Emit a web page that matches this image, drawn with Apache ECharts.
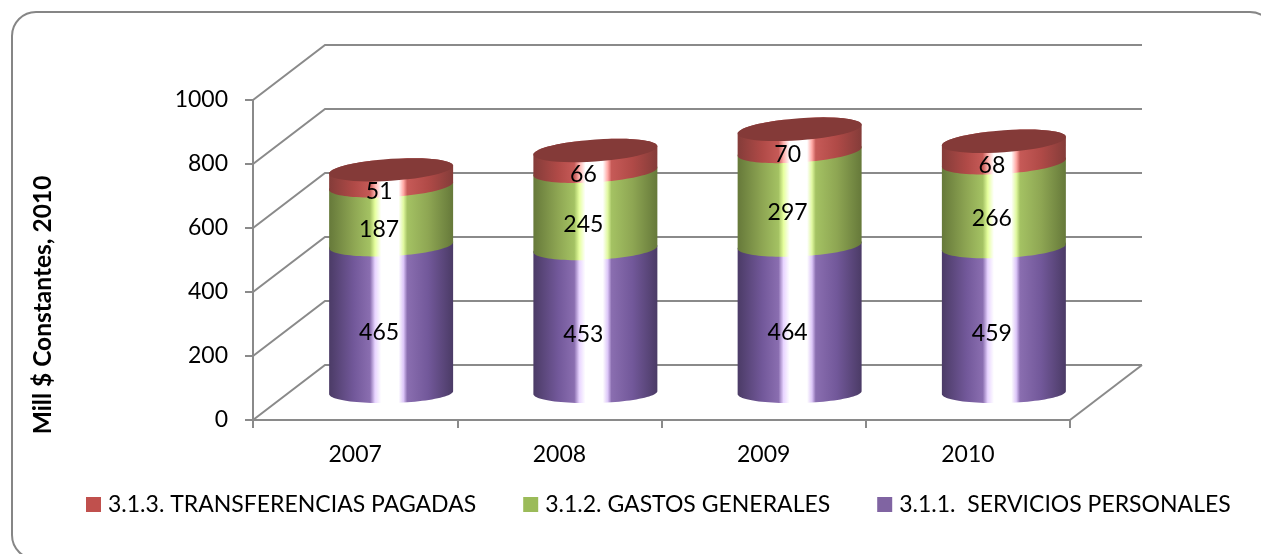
<!DOCTYPE html>
<html><head><meta charset="utf-8">
<style>html,body{margin:0;padding:0;background:#fff}#c{width:1261px;height:554px}</style>
<script src="https://cdn.jsdelivr.net/npm/echarts@6/dist/echarts.min.js"></script>
</head><body><div id="c"></div>
<script>
const categories = ['2007','2008','2009','2010'];
const serviciosPersonales = [465,453,464,459];
const gastosGenerales = [187,245,297,266];
const transferencias = [51,66,70,68];
const yTicks = [0,200,400,600,800,1000];
const seriesNames = ['3.1.1.  SERVICIOS PERSONALES','3.1.2. GASTOS GENERALES','3.1.3. TRANSFERENCIAS PAGADAS'];

const DEPTH_X = 72, DEPTH_Y = 55, FONT = 'Lato', DEPTH_SCALE = 0.99;
const GRID_COLOR = '#8a8a8a';

function sideGrad(dk, mid, hi, hi2) {
  return {type:'linear',x:0,y:0,x2:1,y2:0,colorStops:[
    {offset:0,color:dk},{offset:.2,color:mid[0]},{offset:.33,color:mid[1]},{offset:.37,color:hi},
    {offset:.42,color:'#ffffff'},{offset:.56,color:'#ffffff'},{offset:.6,color:hi2},{offset:.63,color:mid[1]},
    {offset:.8,color:mid[0]},{offset:1,color:dk}]};
}
const fills = [
  sideGrad('#4b3b66',['#72589a','#8a6eb0'],'#e8d4ff','#dcc6f8'),
  sideGrad('#66793a',['#8ea653','#a4c263'],'#e6ff9e','#e0f8a0'),
  sideGrad('#843c39',['#b04a47','#c65a57'],'#ffb0ac','#ffa8a4')
];
const stacks = [serviciosPersonales, gastosGenerales, transferencias];

function slope(total){ return -(0.024 + total/703*0.04); }
function radiusY(total){ return 10.5 + total/800*0.5; }

function arc(cx, cy, hw, ry, sl, from, to){
  const pts=[]; const n=48;
  for(let k=0;k<=n;k++){
    const t = from + (to-from)*k/n;
    const dx = hw*Math.cos(t);
    pts.push([cx+dx, cy+ry*Math.sin(t)+sl*dx]);
  }
  return pts;
}
function cylinder(level){
  return function(params, api){
    const i = api.value(0);
    let base = 0;
    for(let s=0;s<level;s++) base += stacks[s][i];
    const val = api.value(1);
    const top = base+val;
    const zero = api.coord([i, 0]), p0 = api.coord([i, base]), p1 = api.coord([i, top]);
    const hw = api.size([1,0])[0]*0.607/2;
    const cx = p0[0]+DEPTH_X/2, yz = zero[1]-DEPTH_Y/2;
    const y0 = yz-(zero[1]-p0[1])*DEPTH_SCALE, y1 = yz-(zero[1]-p1[1])*DEPTH_SCALE;
    const s0 = slope(base), s1 = slope(top), r0 = radiusY(base), r1 = radiusY(top);
    const botRim = arc(cx,y0,hw,r0,s0,0,Math.PI);
    const children = [{type:'polygon',shape:{points:arc(cx,y1,hw,r1,s1,Math.PI,2*Math.PI).concat(botRim)},style:{fill:fills[level]}}];
    if(level===2){
      children.push({type:'polygon',shape:{points:arc(cx,y1,hw,r1,s1,0,2*Math.PI)},style:{fill:'#843a38'}});
    }
    children.push({type:'text',z2:50,style:{text:String(val),x:cx-12,y:(y0+y1)/2+14,align:'center',verticalAlign:'middle',
      font:'23px '+FONT,fill:'#000'}});
    return {type:'group',children};
  };
}
function wall(params, api){
  const v = api.value(1);
  const c = params.coordSys;
  const y = api.coord([0,v])[1];
  const l = c.x, r = c.x+c.width;
  const kids = [{type:'polyline',shape:{points:[[l,y],[l+DEPTH_X,y-DEPTH_Y],[r+DEPTH_X,y-DEPTH_Y]]},style:{stroke:GRID_COLOR,lineWidth:2,fill:null}}];
  if(v===0) kids.push({type:'line',shape:{x1:r,y1:y,x2:r+DEPTH_X,y2:y-DEPTH_Y},style:{stroke:GRID_COLOR,lineWidth:2}});
  return {type:'group',children:kids};
}
const baseColors = ['#8064a2','#9bbb59','#c0504d'];
const option = {
  animation:false,
  backgroundColor:'#fff',
  graphic:[{type:'rect',z:-1,shape:{x:12,y:12,width:1262,height:547,r:24},style:{fill:'#fff',stroke:'#868686',lineWidth:2}}],
  grid:{left:253,right:1261-1070,top:100,bottom:134,containLabel:false},
  xAxis:{type:'category',data:categories,
    axisLine:{lineStyle:{color:GRID_COLOR,width:2}},
    axisTick:{show:true,alignWithLabel:false,length:8,lineStyle:{color:GRID_COLOR,width:2}},
    axisLabel:{fontFamily:FONT,fontSize:23,color:'#000',margin:23}},
  yAxis:{type:'value',min:0,max:1000,interval:200,
    name:'Mill $ Constantes, 2010',nameLocation:'middle',nameGap:197,
    nameTextStyle:{fontFamily:FONT,fontSize:24.5,fontWeight:'bold',color:'#000',padding:[0,90,0,0]},
    splitLine:{show:false},
    axisLine:{show:true,lineStyle:{color:GRID_COLOR,width:2}},
    axisTick:{show:true,length:8,lineStyle:{color:GRID_COLOR,width:2}},
    axisLabel:{fontFamily:FONT,fontSize:23,color:'#000',margin:25,padding:[6,0,0,0],formatter:v=>String(v)}},
  legend:{data:[seriesNames[2],seriesNames[1],seriesNames[0]],left:81,top:488,icon:'rect',itemWidth:15,itemHeight:15,itemGap:47,
    textStyle:{fontFamily:FONT,fontSize:23,color:'#000',padding:[0,0,0,2]}},
  series:[
    {type:'custom',name:'walls',silent:true,clip:false,z:1,renderItem:wall,encode:{x:0,y:1},data:yTicks.map(v=>[0,v])},
    ...[0,1,2].map(l=>({type:'custom',name:seriesNames[l],clip:false,z:2+l,renderItem:cylinder(l),
      encode:{x:0,y:1},itemStyle:{color:baseColors[l]},data:stacks[l].map((v,i)=>[i,v])}))
  ]
};
const chart = echarts.init(document.getElementById('c'),null,{renderer:'canvas'});
chart.setOption(option);
</script></body></html>
